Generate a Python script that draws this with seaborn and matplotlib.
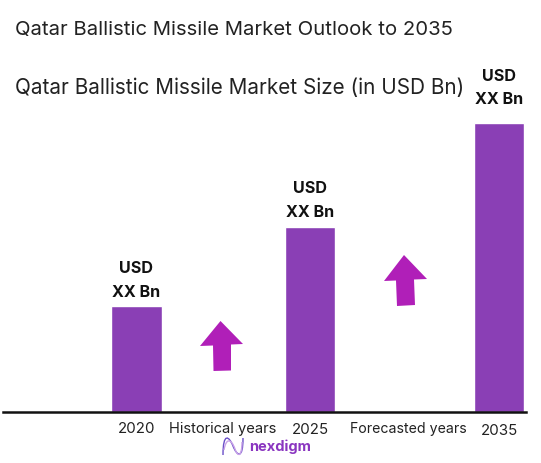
import matplotlib
matplotlib.use("Agg")
import matplotlib.pyplot as plt
import seaborn as sns
from matplotlib.patches import Polygon, PathPatch
from matplotlib.path import Path
from matplotlib.transforms import Affine2D

years = ["2020", "2025", "2035"]
market_size = [1.06, 1.85, 2.89]
value_lines = ["USD", "XX Bn"]
period_labels = ["Historical years", "Forecasted years"]
title_text = "Qatar Ballistic Missile Market Outlook to 2035"
subtitle_text = "Qatar Ballistic Missile Market Size (in USD Bn)"

W, H = 541, 463
BAR_COLOR = "#8A3FB5"
ARROW_COLOR = "#B01FB8"
FONT = "Inter"

sns.set_theme(style="white")
plt.rcParams["font.family"] = [FONT, "DejaVu Sans"]

fig = plt.figure(figsize=(W / 100, H / 100), dpi=100)
ax = fig.add_axes([3 / W, (H - 411.5) / H, 523 / W, 311.5 / H])

# bars are not evenly spaced in the original
slots = [0, 1.93, 4.03]
sns.barplot(x=slots, y=market_size, native_scale=True, color=BAR_COLOR,
            saturation=1, width=0.29, ax=ax)
ax.set_xlim(-1.483, 4.328)
ax.set_ylim(0, 3.115)
ax.set_yticks([])
ax.set_xticks(slots, ["", "", ""])
ax.tick_params(axis="x", length=0)
sns.despine(ax=ax, left=True)
ax.spines["bottom"].set_color("#111111")
ax.spines["bottom"].set_linewidth(1.8)

# value labels above the bars
label_gaps = [(37, 13), (38, 14), (46, 23)]
for x, y, gaps in zip(slots, market_size, label_gaps):
    for line, gap in zip(value_lines, gaps):
        ax.annotate(line, (x, y), xytext=(0, gap * 0.72), textcoords="offset points",
                    ha="center", va="center", fontsize=11.6, fontweight="bold",
                    color="#111111", annotation_clip=False)


def px_text(x, y, s, **kw):
    fig.text(x / W, 1 - y / H, s, va="center", **kw)


px_text(15, 30, title_text, fontsize=14.6, color="#222222")
px_text(15, 88, subtitle_text, fontsize=14.9, color="#222222")

for x, y, s in zip([137, 310, 499.5], [429, 430.5, 431], years):
    px_text(x, y, s, ha="center", fontsize=10.8, color="#222222")
for x, s, size in zip([223, 408], period_labels, [10.6, 10.2]):
    px_text(x, 429, s, ha="center", fontsize=size, color="#222222")

px_text(249, 447, "nexdigm", fontsize=10.5, fontweight="bold", color="#8A35C0")

# pixel coordinates for the decorations, y pointing down
to_fig = Affine2D().scale(1 / W, -1 / H).translate(0, 1) + fig.transFigure

arrows = [
    [(220.5, 321), (200, 346), (213, 345.5), (213.5, 371), (231, 370.5), (231, 344.5), (243, 344)],
    [(404, 255), (384, 281), (396, 280.5), (397, 306), (415, 305), (414, 279.5), (427, 279)],
]
for pts in arrows:
    fig.add_artist(Polygon(pts, closed=True, facecolor=ARROW_COLOR, edgecolor="none", transform=to_fig))

# logo squiggle, two strands
codes = [Path.MOVETO, Path.CURVE4, Path.CURVE4, Path.CURVE4, Path.CURVE4, Path.CURVE4, Path.CURVE4]
strands = [
    ([(223, 455), (223, 432), (229, 436), (233, 446), (237, 456), (243, 460), (243, 438)], "#6A4FC8"),
    ([(224, 450), (226, 438), (231, 438), (235, 449), (238, 458), (242, 456), (242, 442)], "#C9A3E8"),
]
for pts, col in strands:
    fig.add_artist(PathPatch(Path(pts, codes), facecolor="none", edgecolor=col, linewidth=1.0, transform=to_fig))

fig.savefig("out.png", dpi=100)
